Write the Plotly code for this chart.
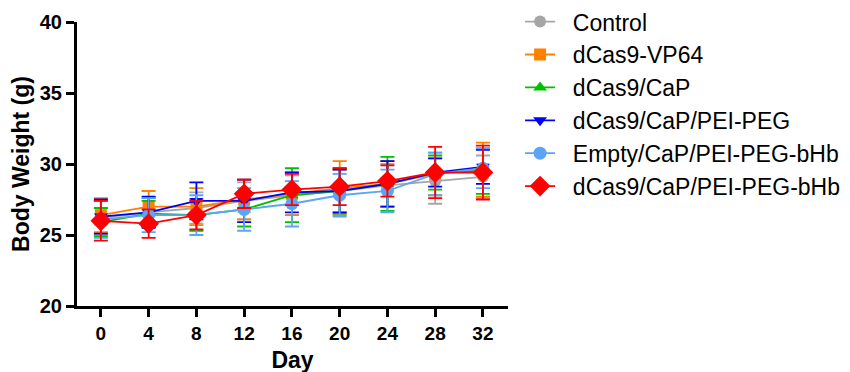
import plotly.graph_objects as go

days = [0, 4, 8, 12, 16, 20, 24, 28, 32]
x_ticks = [0, 4, 8, 12, 16, 20, 24, 28, 32]
y_ticks = [20, 25, 30, 35, 40]

names = ["Control", "dCas9-VP64", "dCas9/CaP", "dCas9/CaP/PEI-PEG",
         "Empty/CaP/PEI-PEG-bHb", "dCas9/CaP/PEI-PEG-bHb"]

control_mean = [26.2, 26.6, 26.9, 27.4, 27.8, 28.1, 28.5, 28.8, 29.1]
control_sd = [1.2, 1.0, 1.1, 1.3, 1.4, 1.5, 1.5, 1.6, 1.5]
vp64_mean = [26.4, 27.0, 27.0, 27.5, 27.9, 28.3, 28.6, 29.3, 29.6]
vp64_sd = [1.2, 1.1, 1.3, 1.4, 1.5, 1.9, 1.6, 1.5, 1.9]
cap_mean = [25.9, 26.5, 26.4, 26.8, 27.8, 28.1, 28.6, 29.4, 29.5]
cap_sd = [1.0, 0.9, 1.1, 1.2, 1.9, 1.6, 1.9, 1.2, 1.6]
peg_mean = [26.3, 26.6, 27.4, 27.4, 28.0, 28.1, 28.6, 29.4, 29.8]
peg_sd = [1.2, 1.1, 1.3, 1.5, 1.4, 1.5, 1.6, 1.0, 1.2]
empty_mean = [26.1, 26.4, 26.4, 26.8, 27.2, 27.8, 28.1, 29.3, 29.7]
empty_sd = [1.3, 1.2, 1.4, 1.5, 1.6, 1.5, 1.5, 1.5, 1.4]
bhb_mean = [26.0, 25.8, 26.4, 27.9, 28.2, 28.4, 28.8, 29.4, 29.4]
bhb_sd = [1.4, 1.0, 1.0, 1.0, 1.1, 1.3, 1.1, 1.8, 1.9]

means = [control_mean, vp64_mean, cap_mean, peg_mean, empty_mean, bhb_mean]
sds = [control_sd, vp64_sd, cap_sd, peg_sd, empty_sd, bhb_sd]
colors = ["#A6A6A8", "#FF8000", "#00C000", "#0000FF", "#5AA5F5", "#FF0000"]
symbols = ["circle", "square", "triangle-up", "triangle-down", "circle", "diamond"]
sizes = [12, 12, 12, 12, 13, 16]

fig = go.Figure()
for i in range(6):
    fig.add_trace(go.Scatter(
        x=days, y=means[i], name="&nbsp;&nbsp;" + names[i], mode="lines+markers",
        line=dict(color=colors[i], width=1.8),
        marker=dict(symbol=symbols[i], size=sizes[i], color=colors[i]),
        error_y=dict(type="data", array=sds[i], visible=True,
                     color=colors[i], thickness=1.8, width=7),
    ))

fig.update_layout(
    width=850, height=372,
    margin=dict(l=69, r=350, t=14, b=74, autoexpand=False),
    paper_bgcolor="white", plot_bgcolor="white",
    font=dict(family="Arial, Liberation Sans, sans-serif", color="black"),
    legend=dict(x=1.028, y=1.077, xanchor="left", yanchor="top",
                font=dict(size=23, color="black"), itemwidth=30,
                maxheight=400, bgcolor="rgba(0,0,0,0)"),
    xaxis=dict(range=[-2.0, 34.1], tickvals=x_ticks, showline=True,
               linecolor="black", linewidth=3, ticks="outside", ticklen=8,
               tickwidth=2.5, tickcolor="black", showgrid=False, zeroline=False,
               tickfont=dict(size=19, family="Arial, Liberation Sans", weight="bold"),
               title=dict(text="<b>Day</b>", font=dict(size=23), standoff=10)),
    yaxis=dict(range=[20, 40], tickvals=y_ticks, showline=True,
               linecolor="black", linewidth=3, ticks="outside", ticklen=8,
               tickwidth=2.5, tickcolor="black", showgrid=False, zeroline=False,
               tickfont=dict(size=20, family="Arial, Liberation Sans", weight="bold"),
               title=dict(text="<b>Body Weight (g)</b>", font=dict(size=23), standoff=8)),
)

fig.write_html("out.html")
